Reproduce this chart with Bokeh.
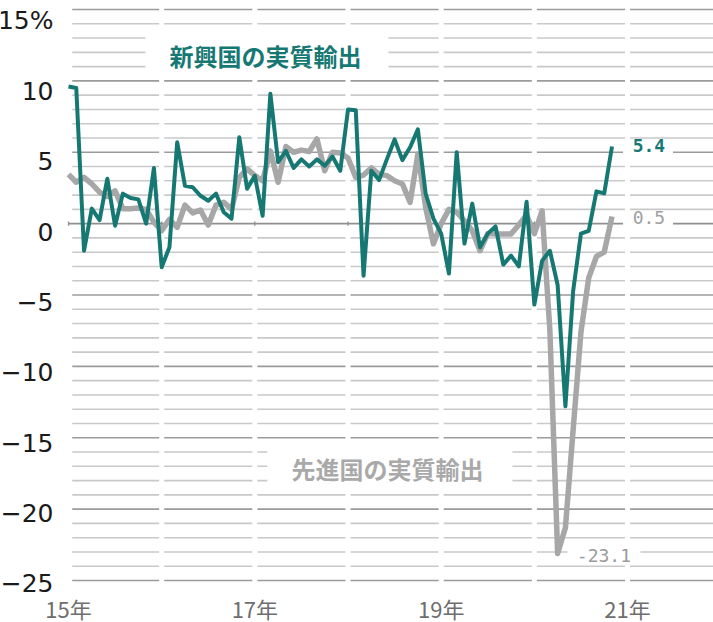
from bokeh.plotting import figure
from bokeh.models import Range1d, LinearAxis, FixedTicker, Label
from bokeh.embed import file_html
from bokeh.resources import INLINE

# ---------------- data (monthly, Jan 2015 - Nov 2020, % y/y) ----------------
START_YEAR = 2015
emerging = [9.6, 9.5, -1.9, 1.05, 0.25, 3.15, -0.15, 2.1, 1.8, 1.7,
            0.0, 3.9, -3.05, -1.65, 5.7, 2.65, 2.55, 1.95, 1.6, 2.1,
            0.8, 0.35, 6.05, 2.45, 3.35, 0.55, 9.1, 4.3, 5.1, 3.9,
            4.5, 4.0, 4.5, 4.05, 4.7, 3.7, 8.0, 7.95, -3.65, 3.7,
            3.05, 4.5, 5.9, 4.45, 5.35, 6.6, 2.1, 0.35, -0.7, -3.5,
            5.0, -1.4, 1.4, -1.65, -0.7, -0.2, -2.87, -2.24, -3.0, 1.54,
            -5.67, -2.6, -1.9, -4.3, -12.8, -4.7, -0.7, -0.5, 2.26, 2.12,
            5.4]
advanced = [3.45, 2.9, 3.24, 2.78, 2.2, 1.9, 2.3, 1.05, 1.05, 1.1,
            1.0, 0.1, -0.5, 0.3, -0.26, 1.3, 0.75, 0.95, -0.1, 1.3,
            1.5, 1.0, 3.24, 3.83, 3.36, 3.0, 5.1, 2.9, 5.4, 5.0,
            5.15, 5.05, 5.93, 3.7, 5.0, 4.95, 4.6, 3.24, 3.4, 3.9,
            3.47, 3.36, 3.0, 2.78, 1.49, 4.88, 1.14, -1.42, 0.0, 1.0,
            0.8, 0.2, -0.5, -1.9, -0.7, -0.72, -0.72, -0.72, -0.1, 0.6,
            -0.7, 0.9, -7.5, -23.1, -21.3, -14.4, -7.6, -3.8, -2.3, -2.0,
            0.5]
months = [START_YEAR + i / 12 for i in range(len(emerging))]

y_ticks = [-25, -20, -15, -10, -5, 0, 5, 10, 15]
y_tick_labels = {15: "15%", 10: "10", 5: "5", 0: "0", -5: "\u22125",
                 -10: "\u221210", -15: "\u221215", -20: "\u221220", -25: "\u221225"}
x_ticks = [2015, 2017, 2019, 2021]
x_tick_labels = {2015: "15年", 2017: "17年", 2019: "19年", 2021: "21年"}
grid_values = list(range(-25, 16))
grid_years = list(range(2015, 2022))

emerging_name = "新興国の実質輸出"
advanced_name = "先進国の実質輸出"

# ---------------- styling ----------------
TEAL = "#167873"
GRAY = "#a7a7a7"
X0, X1 = 2014.2701, 2021.9228
Y0, Y1 = -27.942, 15.6305

p = figure(width=713, height=622, output_backend="svg", toolbar_location=None,
           x_range=Range1d(X0, X1), y_range=Range1d(Y0, Y1),
           x_axis_location=None, y_axis_location=None,
           min_border_left=0, min_border_right=0, min_border_top=0, min_border_bottom=0)
p.outline_line_color = None
p.background_fill_color = "white"
p.border_fill_color = "white"
p.grid.visible = False

# grid lines, broken at every year boundary
GAP = 0.027
gx0, gx1, gy, gc = [], [], [], []
for v in grid_values:
    if v == 0:
        continue
    for yr in grid_years:
        a = yr + (0.04 if yr == 2015 else GAP)
        b = X1 if yr == grid_years[-1] else yr + 1 - GAP
        gx0.append(a); gx1.append(b); gy.append(v)
        gc.append("#9b9b9b" if v % 5 == 0 else "#c9c9c9")
p.segment(x0=gx0, y0=gy, x1=gx1, y1=gy, line_color=gc, line_width=1.6)
# zero line + year ticks
p.segment(x0=[2015], y0=[0], x1=[X1], y1=[0], line_color="#8f8f8f", line_width=1.6)
p.segment(x0=grid_years, y0=[-0.15] * len(grid_years), x1=grid_years,
          y1=[0.15] * len(grid_years), line_color="#8f8f8f", line_width=1.3)

# white boxes behind labels
p.rect(x=[2017.13, 2018.45, 2021.22, 2021.22, 2020.747],
       y=[12.01, -16.98, 5.0, 0.0, -23.0],
       width=[243, 245, 50, 50, 73], height=[46, 43, 12, 12, 10],
       width_units="screen", height_units="screen",
       fill_color="white", line_color=None)

# series
p.line(months, advanced, line_color=GRAY, line_width=5.5, line_join="round")
p.line(months, emerging, line_color=TEAL, line_width=4, line_join="round")

# labels
p.add_layout(Label(x=2017.115, y=11.77, text=emerging_name, text_align="center",
                   text_baseline="middle", text_font="Noto Sans CJK JP",
                   text_font_style="bold", text_font_size="24px", text_color=TEAL))
p.add_layout(Label(x=2018.424, y=-17.16, text=advanced_name, text_align="center",
                   text_baseline="middle", text_font="Noto Sans CJK JP",
                   text_font_style="bold", text_font_size="24px", text_color="#a9a9a9"))
p.add_layout(Label(x=2021.23, y=5.44, text=f"{emerging[-1]:.1f}", text_align="center",
                   text_baseline="middle", text_font="DejaVu Sans Mono",
                   text_font_style="bold", text_font_size="18px", text_color=TEAL))
p.add_layout(Label(x=2021.23, y=0.46, text=f"{advanced[-1]:.1f}", text_align="center",
                   text_baseline="middle", text_font="DejaVu Sans Mono",
                   text_font_size="18px", text_color="#a0a0a0"))
p.add_layout(Label(x=2020.747, y=-23.25, text=f"{min(advanced):.1f}", text_align="center",
                   text_baseline="middle", text_font="DejaVu Sans Mono",
                   text_font_size="18px", text_color="#9a9a9a"))

# axes (drawn at fixed locations inside the full-size frame)
p.extra_y_ranges = {"lab": Range1d(-27.737, 16.455)}
yax = LinearAxis(y_range_name="lab", ticker=FixedTicker(ticks=y_ticks),
                 major_label_overrides=y_tick_labels, fixed_location=2014.8712,
                 axis_line_color=None, major_tick_line_color=None,
                 minor_tick_line_color=None, major_tick_in=0, major_tick_out=0,
                 major_label_standoff=3, major_label_text_font="DejaVu Sans",
                 major_label_text_font_size="25px", major_label_text_color="#1a1a1a")
p.add_layout(yax, "left")
xax = LinearAxis(ticker=FixedTicker(ticks=x_ticks), major_label_overrides=x_tick_labels,
                 fixed_location=-25.14, axis_line_color=None, major_tick_line_color=None,
                 minor_tick_line_color=None, major_tick_in=0, major_tick_out=0,
                 major_label_standoff=9, major_label_text_font="Noto Sans CJK JP",
                 major_label_text_font_size="22px", major_label_text_color="#6e6e6e")
p.add_layout(xax, "below")

open("out.html", "w").write(file_html(p, INLINE))
